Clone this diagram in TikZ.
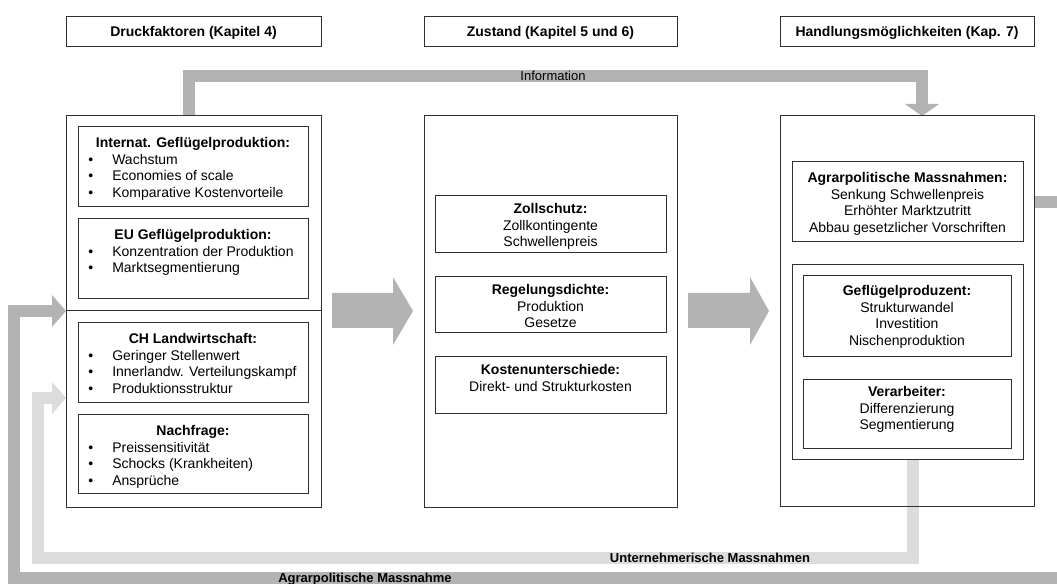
\documentclass[tikz,border=0pt]{standalone}
\usepackage{fontspec}
\setmainfont{Liberation Sans}
\usetikzlibrary{calc}
\definecolor{gD}{HTML}{B3B3B3}
\definecolor{gL}{HTML}{DCDCDC}
\definecolor{frm}{HTML}{303030}
\newcommand\ctext[5]{\node[#1,anchor=base] (#2) at ($(#3.north)+(0,#4)$) {#5};}
\newcommand\btext[4]{\node[txt,anchor=base west] (#1) at ($(#2.north west)+(10,#3)$) {\makebox[18pt][l]{\textbullet}#4};}
\begin{document}
\begin{tikzpicture}[x=0.75pt,y=-0.75pt,
  box/.style={draw=frm, line width=0.75pt, rectangle, inner sep=0pt, outer sep=0pt, anchor=north west},
  sz/.style 2 args={minimum width=#1*0.75pt, minimum height=#2*0.75pt},
  txt/.style={inner sep=0pt, font=\fontsize{10.5}{12.4}\selectfont},
  hd/.style={inner sep=0pt, font=\fontsize{10.5}{12.4}\selectfont\bfseries},
  lbl/.style={inner sep=0pt, font=\fontsize{9.75}{11}\selectfont},
  lblb/.style={inner sep=0pt, font=\fontsize{9.75}{11}\selectfont\bfseries},
  bandD/.style={draw=gD, line width=9pt},
  bandL/.style={draw=gL, line width=9pt},
  headD/.style={fill=gD},
  headL/.style={fill=gL}]
\useasboundingbox (0,0) rectangle (1057,584);

% ---------- coordinates for band routes ----------
\coordinate (iTop1) at (189,76);
\coordinate (iTop2) at (922,76);
\coordinate (iBase) at (922,104);
\coordinate (exitEnd) at (1057,202);
\coordinate (uBot1) at (913,557.5);
\coordinate (uBot2) at (38,557.5);
\coordinate (uUp) at (38,398);
\coordinate (uBase) at (52,398);
\coordinate (aStart) at (1057,578);
\coordinate (aBot) at (14,578);
\coordinate (aUp) at (14,311);
\coordinate (aBase) at (52,311);

% ---------- main boxes (named, drawn later on top of bands) ----------
\path
  (66,17)  node[box,sz={255}{30}] (H1) {}
  (424,17) node[box,sz={253}{30}] (H2) {}
  (780,17) node[box,sz={254}{30}] (H3) {}
  (66,116)  node[box,sz={255}{391}] (L) {}
  (424,116) node[box,sz={253}{391}] (M) {}
  (780,116) node[box,sz={254}{390}] (R) {};

% ---------- bands (behind the frames) ----------
\begin{pgfonlayer}{main}\end{pgfonlayer}
\draw[bandD] ($(L.north west)+(123,0)$) -- (iTop1) -- (iTop2) -- (iBase);
\fill[headD] ($(iBase)+(-17,0)$) -- ($(iBase)+(17,0)$) -- ($(R.north west)+(142,0)$) -- cycle;
\node[lbl] (info) at (553,76) {Information};

\draw[bandD] ($(R.north east)+(0,86)$) -- (exitEnd);

\draw[bandD] (aStart) -- (aBot) -- (aUp) -- (aBase);
\fill[headD] ($(aBase)+(0,-16)$) -- ($(aBase)+(0,16)$) -- ($(L.north west)+(0,195)$) -- cycle;
\node[lblb] (agr) at (365,579) {Agrarpolitische Massnahme};

% big block arrows
\fill[headD] ($(L.north east)+(11,177)$) -- ($(L.north east)+(72,177)$) -- ($(L.north east)+(72,161)$)
   -- ($(M.north west)+(-11,195)$) -- ($(L.north east)+(72,229)$) -- ($(L.north east)+(72,212)$)
   -- ($(L.north east)+(11,212)$) -- cycle;
\fill[headD] ($(M.north east)+(11,177)$) -- ($(M.north east)+(73,177)$) -- ($(M.north east)+(73,161)$)
   -- ($(R.north west)+(-11,195)$) -- ($(M.north east)+(73,229)$) -- ($(M.north east)+(73,212)$)
   -- ($(M.north east)+(11,212)$) -- cycle;

% ---------- inner boxes ----------
\path
  (78,127)  node[box,sz={230}{80}] (B1) {}
  (78,219)  node[box,sz={230}{80}] (B2) {}
  (78,323)  node[box,sz={230}{80}] (B3) {}
  (78,415)  node[box,sz={230}{79}] (B4) {}
  (435,196) node[box,sz={231}{57}] (C1) {}
  (435,277) node[box,sz={231}{56}] (C2) {}
  (435,357) node[box,sz={231}{57}] (C3) {}
  (792,162) node[box,sz={231}{80}] (D1) {}
  (792,265) node[box,sz={231}{195}] (D2) {}
  (803,276) node[box,sz={208}{81}] (D3) {}
  (803,380) node[box,sz={208}{69}] (D4) {};

% light band from the right box back to the left box
\draw[bandL] ($(D2.south west)+(121,0)$) -- (uBot1) -- (uBot2) -- (uUp) -- (uBase);
\fill[headL] ($(uBase)+(0,-16)$) -- ($(uBase)+(0,16)$) -- ($(L.north west)+(0,282)$) -- cycle;
\node[lblb] (unt) at (710,558) {Unternehmerische Massnahmen};

% redraw frames on top of bands
\foreach \n in {L,M,R,D2} \draw[draw=frm, line width=0.75pt] (\n.north west) rectangle (\n.south east);
\draw[draw=frm, line width=0.75pt] ($(L.north west)+(0,195)$) -- ($(L.north east)+(0,195)$);

% ---------- header texts ----------
\ctext{hd}{t1}{H1}{20}{Druckfaktoren (Kapitel 4)}
\ctext{hd}{t2}{H2}{20}{Zustand (Kapitel 5 und 6)}
\ctext{hd}{t3}{H3}{20}{Handlungsmöglichkeiten (Kap. 7)}

% ---------- left column ----------
\ctext{hd}{b1h}{B1}{21}{Internat. Geflügelproduktion:}
\btext{b1a}{B1}{37.5}{Wachstum}
\btext{b1b}{B1}{54}{Economies of scale}
\btext{b1c}{B1}{70.5}{Komparative Kostenvorteile}

\ctext{hd}{b2h}{B2}{21}{EU Geflügelproduktion:}
\btext{b2a}{B2}{37.5}{Konzentration der Produktion}
\btext{b2b}{B2}{54}{Marktsegmentierung}

\ctext{hd}{b3h}{B3}{21}{CH Landwirtschaft:}
\btext{b3a}{B3}{37.5}{Geringer Stellenwert}
\btext{b3b}{B3}{54}{Innerlandw. Verteilungskampf}
\btext{b3c}{B3}{70.5}{Produktionsstruktur}

\ctext{hd}{b4h}{B4}{21}{Nachfrage:}
\btext{b4a}{B4}{37.5}{Preissensitivität}
\btext{b4b}{B4}{54}{Schocks (Krankheiten)}
\btext{b4c}{B4}{70.5}{Ansprüche}

% ---------- middle column ----------
\ctext{hd}{c1h}{C1}{18}{Zollschutz:}
\ctext{txt}{c1a}{C1}{34.5}{Zollkontingente}
\ctext{txt}{c1b}{C1}{51}{Schwellenpreis}

\ctext{hd}{c2h}{C2}{18}{Regelungsdichte:}
\ctext{txt}{c2a}{C2}{34.5}{Produktion}
\ctext{txt}{c2b}{C2}{51}{Gesetze}

\ctext{hd}{c3h}{C3}{18}{Kostenunterschiede:}
\ctext{txt}{c3a}{C3}{34.5}{Direkt- und Strukturkosten}

% ---------- right column ----------
\ctext{hd}{d1h}{D1}{21}{Agrarpolitische Massnahmen:}
\ctext{txt}{d1a}{D1}{37.5}{Senkung Schwellenpreis}
\ctext{txt}{d1b}{D1}{54}{Erhöhter Marktzutritt}
\ctext{txt}{d1c}{D1}{70.5}{Abbau gesetzlicher Vorschriften}

\ctext{hd}{d3h}{D3}{20}{Geflügelproduzent:}
\ctext{txt}{d3a}{D3}{36.5}{Strukturwandel}
\ctext{txt}{d3b}{D3}{53}{Investition}
\ctext{txt}{d3c}{D3}{69.5}{Nischenproduktion}

\ctext{hd}{d4h}{D4}{17}{Verarbeiter:}
\ctext{txt}{d4a}{D4}{33.5}{Differenzierung}
\ctext{txt}{d4b}{D4}{50}{Segmentierung}
\end{tikzpicture}
\end{document}
